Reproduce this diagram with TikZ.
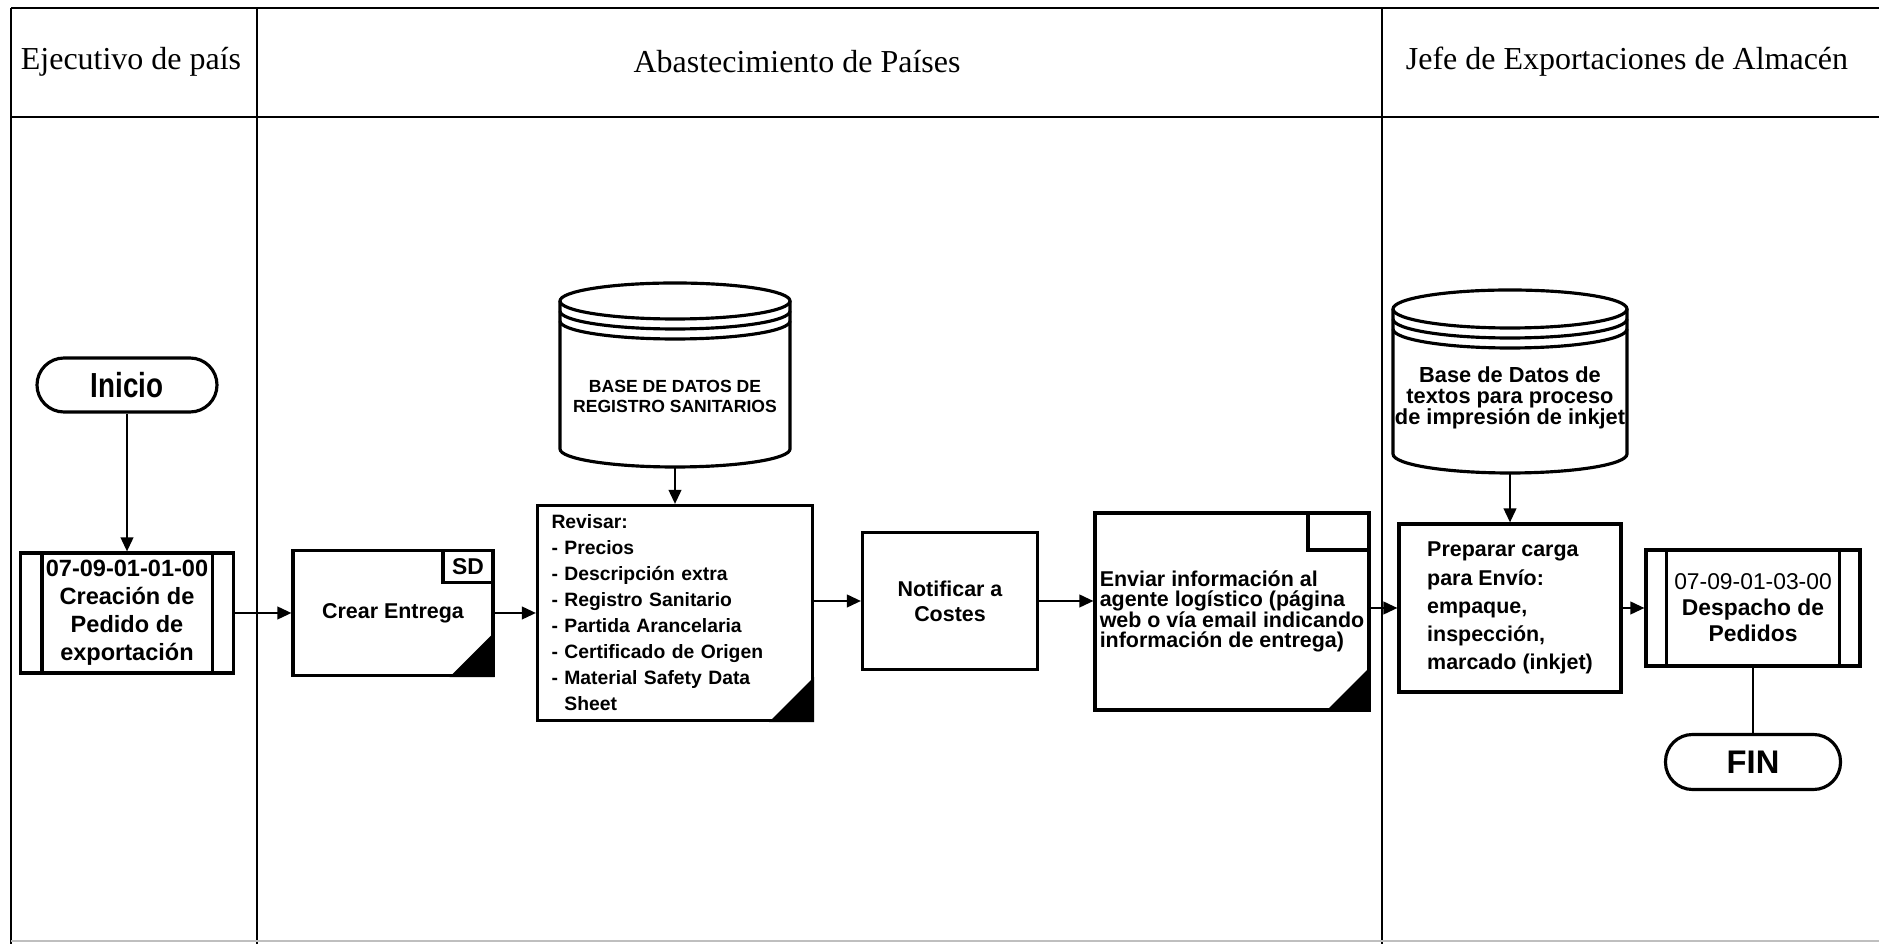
\documentclass[tikz,border=0pt]{standalone}
\usepackage{fontspec}
\setmainfont{Liberation Serif}
\setsansfont{Liberation Sans}
\newfontfamily\narrowsans{Liberation Sans}[FakeStretch=0.8]
\usetikzlibrary{arrows.meta,calc}

\tikzset{
  lane/.style={line width=0.8pt},
  lanehead/.style={font=\rmfamily\fontsize{9.1}{11}\selectfont},
  txt/.style 2 args={font=\sffamily\bfseries\fontsize{#1}{#2}\selectfont},
  box/.style={draw, line width=0.9pt, align=center, inner sep=0.04cm},
  term/.style={box, rounded corners=0.27cm},
  db/.style={inner sep=0pt, outer sep=0pt, align=center},
  flow/.style={line width=0.6pt, -{Triangle[length=4pt,width=3.6pt]}},
  link/.style={line width=0.6pt}
}

\begin{document}
\setlength{\lineskiplimit}{-4pt}
\begin{tikzpicture}
  \path[use as bounding box, fill=white] (0,0) rectangle (18.79,9.44);
  % swimlanes
  \draw[lane] (0.11,9.36) -- (18.79,9.36);
  \draw[lane] (0.11,8.27) -- (18.79,8.27);
  \draw[lane] (0.11,9.36) -- (0.11,0);
  \draw[lane] (2.57,9.36) -- (2.57,0);
  \draw[lane] (13.82,9.36) -- (13.82,0);
  \draw[black!25] (0.11,0.03) -- (18.79,0.03);
  \node[lanehead] (ejecutivo) at (1.31,8.82) {Ejecutivo de país};
  \node[lanehead] (abast) at (7.97,8.82) {Abastecimiento de Países};
  \node[lanehead] (jefe) at (16.27,8.82) {Jefe de Exportaciones de Almacén};

  % Ejecutivo de pais
  \node[term, font=\narrowsans\bfseries\fontsize{9.9}{11}\selectfont, minimum width=1.80cm, minimum height=0.54cm] (inicio) at (1.27,5.59) {Inicio};
  \node[box, txt={6.7}{8}, minimum width=2.13cm, minimum height=1.20cm] (pedido) at (1.27,3.31)
    {07-09-01-01-00\\Creación de\\Pedido de\\exportación};
  \draw[line width=0.9pt] ([xshift=0.23cm]pedido.north west) -- ([xshift=0.23cm]pedido.south west);
  \draw[line width=0.9pt] ([xshift=-0.23cm]pedido.north east) -- ([xshift=-0.23cm]pedido.south east);

  % Abastecimiento de Paises
  \node[box, txt={6.1}{7}, minimum width=2.00cm, minimum height=1.25cm] (crear) at (3.93,3.31) {Crear Entrega};
  \node[box, txt={6.5}{7}, minimum width=0.50cm, minimum height=0.32cm, anchor=north east] (sd) at (crear.north east) {SD};
  \fill (crear.south east) -- ++(-0.45,0) -- ++(0.45,0.45) -- cycle;

  \node[db, txt={5}{5.7}, minimum width=2.30cm, minimum height=1.42cm] (regdb) at (6.75,5.48)
    {BASE DE DATOS DE\\REGISTRO SANITARIOS};
  \draw[line width=0.9pt] ([yshift=0.24cm]regdb.north) ellipse [x radius=1.15cm, y radius=0.18cm];
  \draw[line width=0.9pt] ([yshift=0.24cm]regdb.north west) -- ([yshift=0.18cm]regdb.south west)
    arc [start angle=180, end angle=360, x radius=1.15cm, y radius=0.18cm] -- ([yshift=0.24cm]regdb.north east);
  \draw[line width=0.9pt] ([yshift=0.14cm]regdb.north west) arc [start angle=180, end angle=360, x radius=1.15cm, y radius=0.18cm];
  \draw[line width=0.9pt] ([yshift=0.04cm]regdb.north west) arc [start angle=180, end angle=360, x radius=1.15cm, y radius=0.18cm];

  \node[box, txt={5.5}{7.4}, minimum width=2.75cm, minimum height=2.15cm, inner xsep=0.14cm,
    text width=2.47cm, align=left] (revisar) at (6.75,3.31)
    {Revisar:\\- Precios\\- Descripción extra\\- Registro Sanitario\\- Partida Arancelaria\\- Certificado de Origen\\- Material Safety Data\\\hphantom{- }Sheet};
  \fill (revisar.south east) -- ++(-0.45,0) -- ++(0.45,0.45) -- cycle;

  \node[box, txt={6.1}{7.1}, minimum width=1.75cm, minimum height=1.37cm] (notif) at (9.50,3.43) {Notificar a\\Costes};

  \node[box, txt={6.1}{5.8}, minimum width=2.74cm, minimum height=1.97cm, align=left] (enviar) at (12.32,3.325)
    {Enviar información al\\agente logístico (página\\web o vía email indicando\\información de entrega)};
  \node[box, minimum width=0.61cm, minimum height=0.37cm, anchor=north east] (enviarsd) at (enviar.north east) {};
  \fill (enviar.south east) -- ++(-0.45,0) -- ++(0.45,0.45) -- cycle;

  % Jefe de Exportaciones
  \node[db, txt={6.2}{6}, minimum width=2.34cm, minimum height=1.50cm] (inkdb) at (15.10,5.46)
    {Base de Datos de\\textos para proceso\\de impresión de inkjet};
  \draw[line width=0.9pt] ([yshift=0.14cm]inkdb.north) ellipse [x radius=1.17cm, y radius=0.19cm];
  \draw[line width=0.9pt] ([yshift=0.14cm]inkdb.north west) -- ([yshift=0.19cm]inkdb.south west)
    arc [start angle=180, end angle=360, x radius=1.17cm, y radius=0.19cm] -- ([yshift=0.14cm]inkdb.north east);
  \draw[line width=0.9pt] ([yshift=0.04cm]inkdb.north west) arc [start angle=180, end angle=360, x radius=1.17cm, y radius=0.19cm];
  \draw[line width=0.9pt] ([yshift=-0.06cm]inkdb.north west) arc [start angle=180, end angle=360, x radius=1.17cm, y radius=0.19cm];

  \node[box, txt={6.1}{8}, minimum width=2.22cm, minimum height=1.68cm, align=left] (preparar) at (15.10,3.36)
    {Preparar carga\\para Envío:\\empaque,\\inspección,\\marcado (inkjet)};

  \node[box, txt={6.5}{7.4}, minimum width=2.14cm, minimum height=1.16cm] (despacho) at (17.53,3.36)
    {{\mdseries 07-09-01-03-00}\\Despacho de\\Pedidos};
  \draw[line width=0.9pt] ([xshift=0.22cm]despacho.north west) -- ([xshift=0.22cm]despacho.south west);
  \draw[line width=0.9pt] ([xshift=-0.22cm]despacho.north east) -- ([xshift=-0.22cm]despacho.south east);

  \node[term, txt={9.3}{10}, minimum width=1.75cm, minimum height=0.55cm] (fin) at (17.53,1.82) {FIN};

  % connectors
  \draw[flow] (inicio) -- (pedido);
  \draw[flow] (pedido) -- (crear);
  \draw[flow] (crear) -- (revisar);
  \draw[flow] (regdb) -- (revisar);
  \draw[flow] (revisar.east |- notif) -- (notif);
  \draw[flow] (notif.east) -- (notif.east -| enviar.west);
  \draw[flow] (enviar.east |- preparar) -- (preparar);
  \draw[flow] (inkdb) -- (preparar);
  \draw[flow] (preparar) -- (despacho);
  \draw[link] (despacho) -- (fin);
\end{tikzpicture}
\end{document}
